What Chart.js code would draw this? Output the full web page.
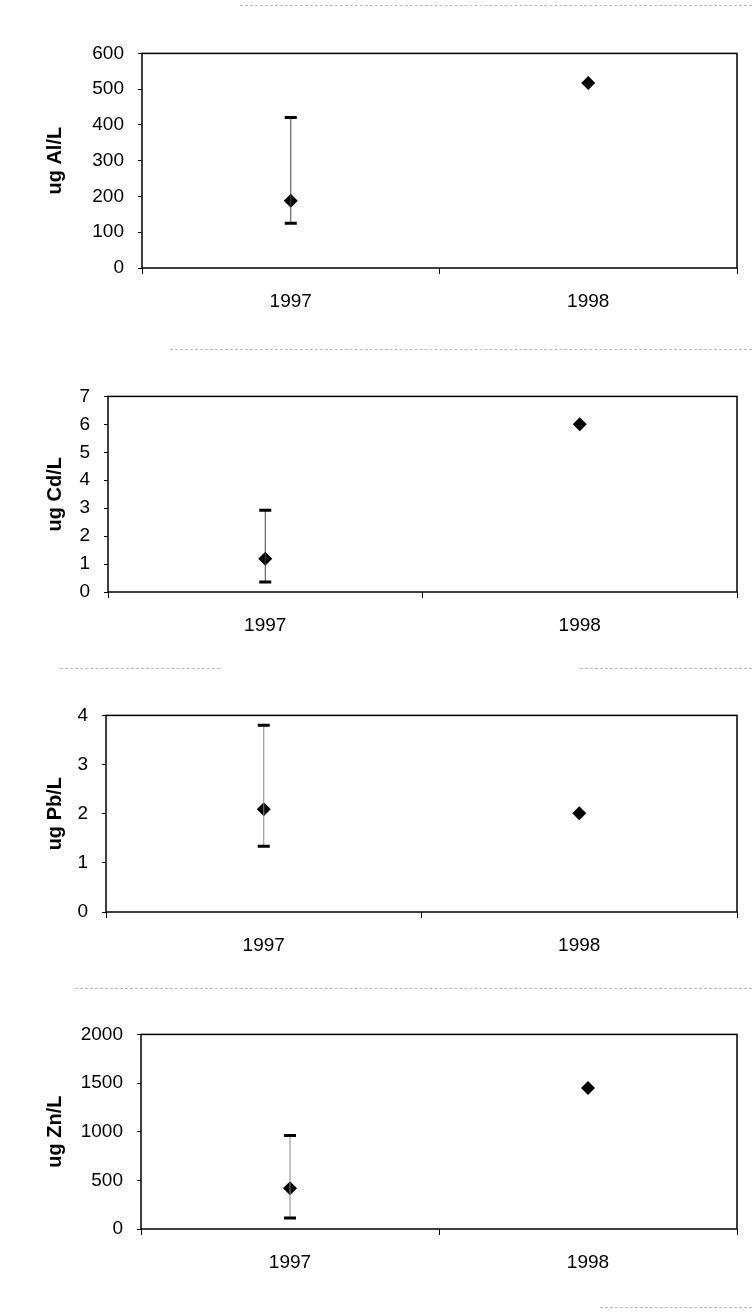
<!DOCTYPE html>
<html>
<head>
<meta charset="utf-8">
<script src="https://cdn.jsdelivr.net/npm/chart.js@4.4.1/dist/chart.umd.min.js"></script>
<style>
  body { margin: 0; background: #fff; }
  #page { position: relative; width: 752px; height: 1316px; overflow: hidden; }
  canvas { position: absolute; left: 0; }
  .scan { position: absolute; border-top: 1px dashed #bbb; height: 0; }
</style>
</head>
<body>
<div id="page">
  <div class="scan" style="top:5px;left:240px;width:512px"></div>
  <div class="scan" style="top:349px;left:170px;width:582px"></div>
  <div class="scan" style="top:668px;left:60px;width:160px"></div>
  <div class="scan" style="top:668px;left:580px;width:172px"></div>
  <div class="scan" style="top:988px;left:75px;width:677px"></div>
  <div class="scan" style="top:1307px;left:600px;width:152px"></div>
  <canvas id="c1"></canvas>
  <canvas id="c2"></canvas>
  <canvas id="c3"></canvas>
  <canvas id="c4"></canvas>
</div>
<script>
const years = ["1997", "1998"];

const alMean = [188, 517];
const alLow = [125, null];
const alHigh = [421, null];

const cdMean = [1.19, 6.0];
const cdLow = [0.36, null];
const cdHigh = [2.93, null];

const pbMean = [2.09, 2.01];
const pbLow = [1.34, null];
const pbHigh = [3.80, null];

const znMean = [420, 1450];
const znLow = [113, null];
const znHigh = [961, null];

const panels = [
  { id: "c1", title: "ug Al/L", mean: alMean, low: alLow, high: alHigh, max: 600, step: 100, top: 53, bottom: 268, left: 142, barColor: "#444" },
  { id: "c2", title: "ug Cd/L", mean: cdMean, low: cdLow, high: cdHigh, max: 7, step: 1, top: 396, bottom: 592, left: 108, barColor: "#444" },
  { id: "c3", title: "ug Pb/L", mean: pbMean, low: pbLow, high: pbHigh, max: 4, step: 1, top: 715, bottom: 912, left: 106, barColor: "#888" },
  { id: "c4", title: "ug Zn/L", mean: znMean, low: znLow, high: znHigh, max: 2000, step: 500, top: 1034, bottom: 1229, left: 141, barColor: "#888" }
];

const PAD_TOP = 20;
const TOP_OFF = 25; // where the plot area actually starts inside the canvas
const X_AXIS_H = 55;
const TITLE_LEFT = 39;
const FONT = "Liberation Sans";

// error bars + frame around the plot area
const errorBars = {
  id: "errorBars",
  afterDatasetsDraw(chart, args, opts) {
    const ctx = chart.ctx;
    const x = chart.scales.x, y = chart.scales.y;
    const a = chart.chartArea;
    ctx.save();
    opts.low.forEach((lo, i) => {
      const hi = opts.high[i];
      if (lo == null || hi == null) return;
      const px = x.getPixelForValue(i);
      const y1 = y.getPixelForValue(lo), y2 = y.getPixelForValue(hi);
      ctx.strokeStyle = opts.color;
      ctx.lineWidth = 1;
      ctx.beginPath();
      ctx.moveTo(px, y1);
      ctx.lineTo(px, y2);
      ctx.stroke();
      ctx.strokeStyle = "#000";
      ctx.lineWidth = 3;
      ctx.beginPath();
      ctx.moveTo(px - 6, y1); ctx.lineTo(px + 6, y1);
      ctx.moveTo(px - 6, y2); ctx.lineTo(px + 6, y2);
      ctx.stroke();
    });
    ctx.strokeStyle = "#000";
    ctx.lineWidth = 1.5;
    ctx.strokeRect(a.left, a.top, a.right - a.left, a.bottom - a.top);
    ctx.restore();
  }
};

panels.forEach(p => {
  const cv = document.getElementById(p.id);
  const h = TOP_OFF + (p.bottom - p.top) + X_AXIS_H;
  cv.style.top = (p.top - TOP_OFF) + "px";
  cv.width = 752;
  cv.height = h;
  cv.style.width = "752px";
  cv.style.height = h + "px";

  new Chart(cv, {
    type: "line",
    data: {
      labels: years,
      datasets: [{
        data: p.mean,
        showLine: false,
        pointStyle: "rectRot",
        pointRadius: 7,
        pointBackgroundColor: "#000",
        pointBorderColor: "#000",
        pointBorderWidth: 0
      }]
    },
    options: {
      responsive: false,
      animation: false,
      layout: { padding: { top: PAD_TOP, right: 15, left: TITLE_LEFT, bottom: 0 } },
      plugins: {
        legend: { display: false },
        tooltip: { enabled: false },
        errorBars: { low: p.low, high: p.high, color: p.barColor }
      },
      scales: {
        x: {
          type: "category",
          offset: true,
          grid: { offset: true, drawOnChartArea: false, color: "#000", tickLength: 6, lineWidth: 1 },
          border: { display: false },
          ticks: { color: "#000", padding: 16, font: { family: FONT, size: 19 }, maxRotation: 0 },
          afterFit(s) { s.height = X_AXIS_H; }
        },
        y: {
          min: 0,
          max: p.max,
          grid: { drawOnChartArea: false, color: "#000", tickLength: 4, lineWidth: 1 },
          border: { display: false },
          ticks: { stepSize: p.step, color: "#000", padding: 14, font: { family: FONT, size: 19 }, callback: v => String(v) },
          title: { display: true, text: p.title, color: "#000", font: { family: FONT, size: 20, weight: "bold" } },
          afterFit(s) { s.width = p.left - TITLE_LEFT; }
        }
      }
    },
    plugins: [errorBars]
  });
});
</script>
</body>
</html>
